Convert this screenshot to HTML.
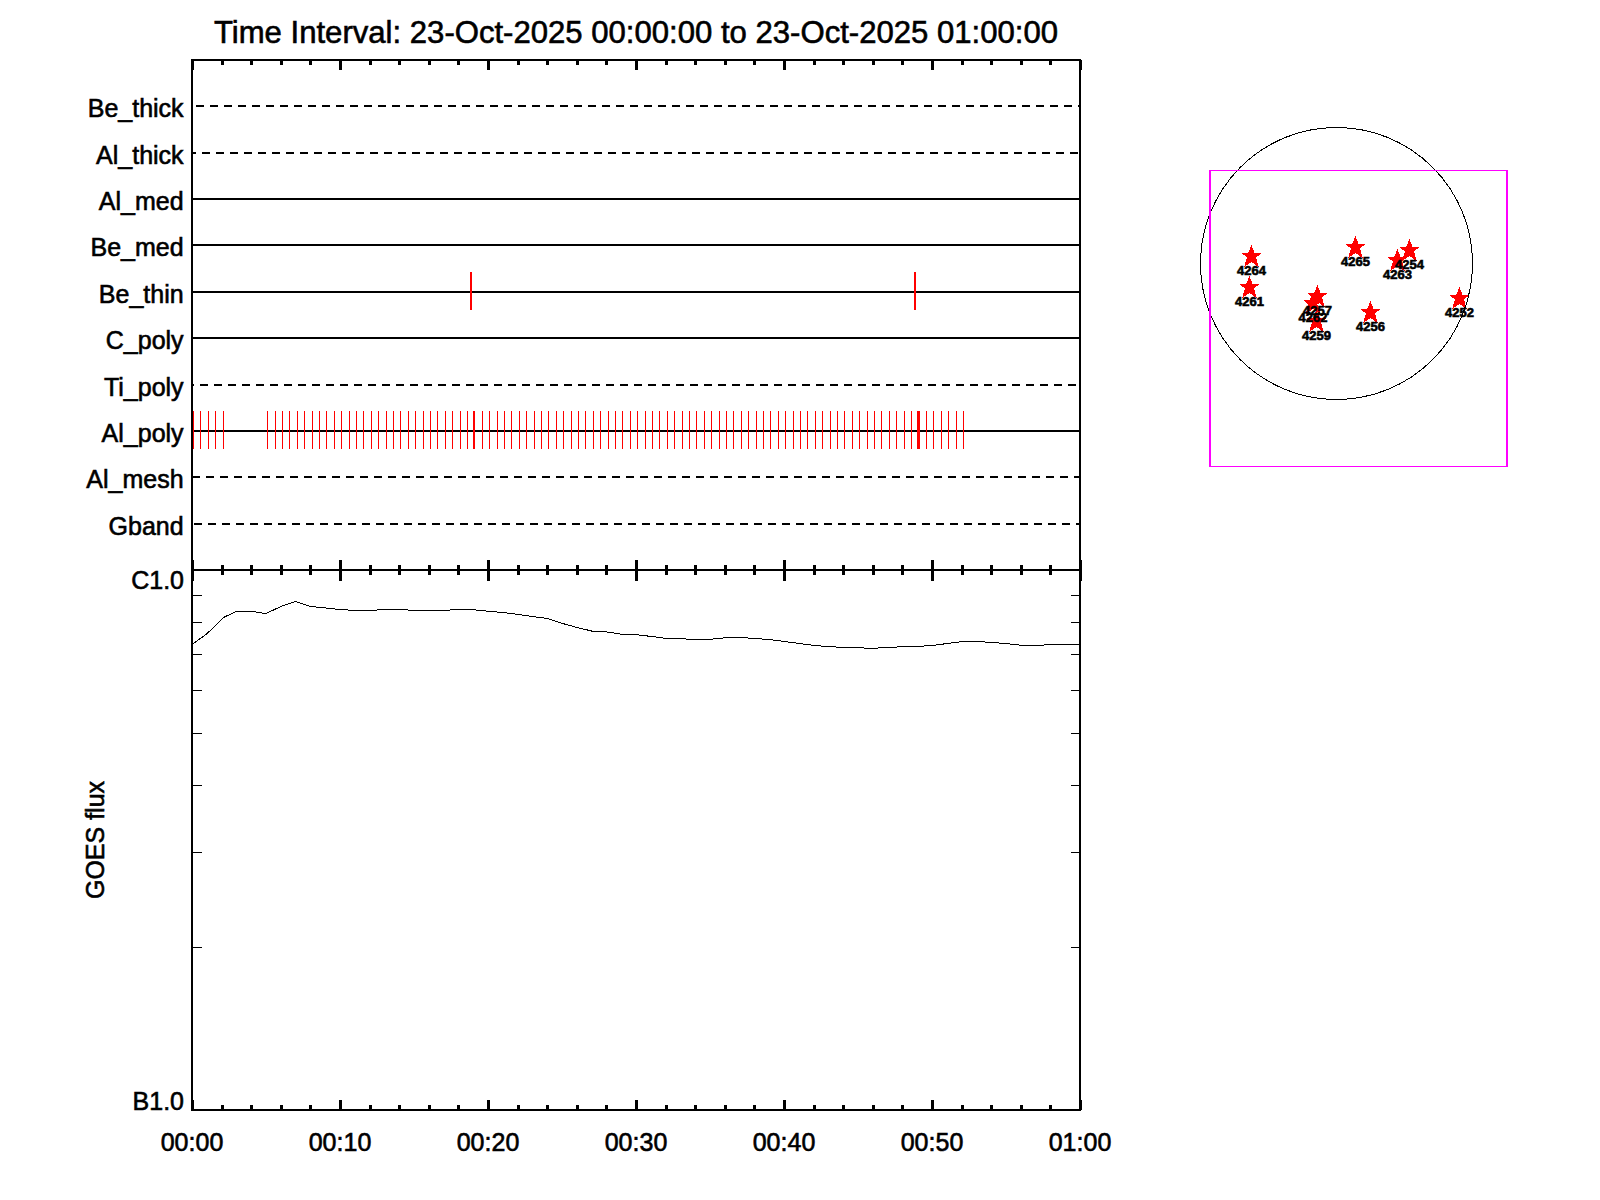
<!DOCTYPE html>
<html><head><meta charset="utf-8"><title>Time Interval plot</title>
<style>html,body{margin:0;padding:0;background:#fff;}body{width:1600px;height:1200px;overflow:hidden;}svg{display:block;}text{font-family:"Liberation Sans",sans-serif;fill:#000;stroke:#000;stroke-width:0.6px;}</style>
</head><body>
<svg width="1600" height="1200" viewBox="0 0 1600 1200">
<rect x="0" y="0" width="1600" height="1200" fill="#fff"/>
<text x="636" y="43" font-size="31.1" text-anchor="middle">Time Interval: 23-Oct-2025 00:00:00 to 23-Oct-2025 01:00:00</text>
<g shape-rendering="crispEdges">
<line x1="192" y1="106" x2="1080" y2="106" stroke="#000" stroke-width="2" stroke-dasharray="8 6" stroke-dashoffset="10"/>
<line x1="192" y1="153" x2="1080" y2="153" stroke="#000" stroke-width="2" stroke-dasharray="8 6" stroke-dashoffset="4"/>
<line x1="192" y1="199" x2="1080" y2="199" stroke="#000" stroke-width="2"/>
<line x1="192" y1="245" x2="1080" y2="245" stroke="#000" stroke-width="2"/>
<line x1="192" y1="292" x2="1080" y2="292" stroke="#000" stroke-width="2"/>
<line x1="192" y1="338" x2="1080" y2="338" stroke="#000" stroke-width="2"/>
<line x1="192" y1="385" x2="1080" y2="385" stroke="#000" stroke-width="2" stroke-dasharray="8 6" stroke-dashoffset="6"/>
<line x1="192" y1="431" x2="1080" y2="431" stroke="#000" stroke-width="2"/>
<line x1="192" y1="477" x2="1080" y2="477" stroke="#000" stroke-width="2" stroke-dasharray="8 6" stroke-dashoffset="0"/>
<line x1="192" y1="524" x2="1080" y2="524" stroke="#000" stroke-width="2" stroke-dasharray="8 6" stroke-dashoffset="12"/>
<rect x="193" y="411" width="1" height="38" fill="#f00"/>
<rect x="200" y="411" width="1" height="38" fill="#f00"/>
<rect x="208" y="411" width="1" height="38" fill="#f00"/>
<rect x="215" y="411" width="1" height="38" fill="#f00"/>
<rect x="223" y="411" width="1" height="38" fill="#f00"/>
<rect x="267" y="411" width="1" height="38" fill="#f00"/>
<rect x="275" y="411" width="1" height="38" fill="#f00"/>
<rect x="282" y="411" width="1" height="38" fill="#f00"/>
<rect x="289" y="411" width="1" height="38" fill="#f00"/>
<rect x="297" y="411" width="1" height="38" fill="#f00"/>
<rect x="304" y="411" width="1" height="38" fill="#f00"/>
<rect x="312" y="411" width="1" height="38" fill="#f00"/>
<rect x="319" y="411" width="1" height="38" fill="#f00"/>
<rect x="326" y="411" width="1" height="38" fill="#f00"/>
<rect x="334" y="411" width="1" height="38" fill="#f00"/>
<rect x="341" y="411" width="1" height="38" fill="#f00"/>
<rect x="349" y="411" width="1" height="38" fill="#f00"/>
<rect x="356" y="411" width="1" height="38" fill="#f00"/>
<rect x="363" y="411" width="1" height="38" fill="#f00"/>
<rect x="371" y="411" width="1" height="38" fill="#f00"/>
<rect x="378" y="411" width="1" height="38" fill="#f00"/>
<rect x="386" y="411" width="1" height="38" fill="#f00"/>
<rect x="393" y="411" width="1" height="38" fill="#f00"/>
<rect x="400" y="411" width="1" height="38" fill="#f00"/>
<rect x="408" y="411" width="1" height="38" fill="#f00"/>
<rect x="415" y="411" width="1" height="38" fill="#f00"/>
<rect x="423" y="411" width="1" height="38" fill="#f00"/>
<rect x="430" y="411" width="1" height="38" fill="#f00"/>
<rect x="437" y="411" width="1" height="38" fill="#f00"/>
<rect x="445" y="411" width="1" height="38" fill="#f00"/>
<rect x="452" y="411" width="1" height="38" fill="#f00"/>
<rect x="460" y="411" width="1" height="38" fill="#f00"/>
<rect x="467" y="411" width="1" height="38" fill="#f00"/>
<rect x="473" y="411" width="2" height="38" fill="#f00"/>
<rect x="482" y="411" width="1" height="38" fill="#f00"/>
<rect x="489" y="411" width="1" height="38" fill="#f00"/>
<rect x="497" y="411" width="1" height="38" fill="#f00"/>
<rect x="504" y="411" width="1" height="38" fill="#f00"/>
<rect x="511" y="411" width="1" height="38" fill="#f00"/>
<rect x="519" y="411" width="1" height="38" fill="#f00"/>
<rect x="526" y="411" width="1" height="38" fill="#f00"/>
<rect x="534" y="411" width="1" height="38" fill="#f00"/>
<rect x="541" y="411" width="1" height="38" fill="#f00"/>
<rect x="548" y="411" width="1" height="38" fill="#f00"/>
<rect x="556" y="411" width="1" height="38" fill="#f00"/>
<rect x="563" y="411" width="1" height="38" fill="#f00"/>
<rect x="571" y="411" width="1" height="38" fill="#f00"/>
<rect x="578" y="411" width="1" height="38" fill="#f00"/>
<rect x="585" y="411" width="1" height="38" fill="#f00"/>
<rect x="593" y="411" width="1" height="38" fill="#f00"/>
<rect x="600" y="411" width="1" height="38" fill="#f00"/>
<rect x="608" y="411" width="1" height="38" fill="#f00"/>
<rect x="615" y="411" width="1" height="38" fill="#f00"/>
<rect x="622" y="411" width="1" height="38" fill="#f00"/>
<rect x="630" y="411" width="1" height="38" fill="#f00"/>
<rect x="637" y="411" width="1" height="38" fill="#f00"/>
<rect x="645" y="411" width="1" height="38" fill="#f00"/>
<rect x="652" y="411" width="1" height="38" fill="#f00"/>
<rect x="659" y="411" width="1" height="38" fill="#f00"/>
<rect x="667" y="411" width="1" height="38" fill="#f00"/>
<rect x="674" y="411" width="1" height="38" fill="#f00"/>
<rect x="682" y="411" width="1" height="38" fill="#f00"/>
<rect x="689" y="411" width="1" height="38" fill="#f00"/>
<rect x="696" y="411" width="1" height="38" fill="#f00"/>
<rect x="704" y="411" width="1" height="38" fill="#f00"/>
<rect x="711" y="411" width="1" height="38" fill="#f00"/>
<rect x="719" y="411" width="1" height="38" fill="#f00"/>
<rect x="726" y="411" width="1" height="38" fill="#f00"/>
<rect x="733" y="411" width="1" height="38" fill="#f00"/>
<rect x="741" y="411" width="1" height="38" fill="#f00"/>
<rect x="748" y="411" width="1" height="38" fill="#f00"/>
<rect x="756" y="411" width="1" height="38" fill="#f00"/>
<rect x="763" y="411" width="1" height="38" fill="#f00"/>
<rect x="770" y="411" width="1" height="38" fill="#f00"/>
<rect x="778" y="411" width="1" height="38" fill="#f00"/>
<rect x="785" y="411" width="1" height="38" fill="#f00"/>
<rect x="793" y="411" width="1" height="38" fill="#f00"/>
<rect x="800" y="411" width="1" height="38" fill="#f00"/>
<rect x="807" y="411" width="1" height="38" fill="#f00"/>
<rect x="815" y="411" width="1" height="38" fill="#f00"/>
<rect x="822" y="411" width="1" height="38" fill="#f00"/>
<rect x="830" y="411" width="1" height="38" fill="#f00"/>
<rect x="837" y="411" width="1" height="38" fill="#f00"/>
<rect x="844" y="411" width="1" height="38" fill="#f00"/>
<rect x="852" y="411" width="1" height="38" fill="#f00"/>
<rect x="859" y="411" width="1" height="38" fill="#f00"/>
<rect x="867" y="411" width="1" height="38" fill="#f00"/>
<rect x="874" y="411" width="1" height="38" fill="#f00"/>
<rect x="881" y="411" width="1" height="38" fill="#f00"/>
<rect x="889" y="411" width="1" height="38" fill="#f00"/>
<rect x="896" y="411" width="1" height="38" fill="#f00"/>
<rect x="904" y="411" width="1" height="38" fill="#f00"/>
<rect x="911" y="411" width="1" height="38" fill="#f00"/>
<rect x="917" y="411" width="3" height="38" fill="#f00"/>
<rect x="926" y="411" width="1" height="38" fill="#f00"/>
<rect x="933" y="411" width="1" height="38" fill="#f00"/>
<rect x="941" y="411" width="1" height="38" fill="#f00"/>
<rect x="948" y="411" width="1" height="38" fill="#f00"/>
<rect x="956" y="411" width="1" height="38" fill="#f00"/>
<rect x="963" y="411" width="1" height="38" fill="#f00"/>
<rect x="470" y="272" width="2" height="38" fill="#f00"/>
<rect x="914" y="272" width="2" height="38" fill="#f00"/>
<rect x="191" y="59" width="890" height="2" fill="#000"/>
<rect x="191" y="569" width="890" height="2" fill="#000"/>
<rect x="191" y="1109" width="890" height="2" fill="#000"/>
<rect x="191" y="59" width="2" height="1052" fill="#000"/>
<rect x="1079" y="59" width="2" height="1052" fill="#000"/>
<rect x="191" y="60" width="3" height="10" fill="#000"/>
<rect x="191" y="559.5" width="3" height="21" fill="#000"/>
<rect x="191" y="1100" width="3" height="10" fill="#000"/>
<rect x="221" y="60" width="3" height="5" fill="#000"/>
<rect x="221" y="565" width="3" height="10" fill="#000"/>
<rect x="221" y="1105" width="3" height="5" fill="#000"/>
<rect x="250" y="60" width="3" height="5" fill="#000"/>
<rect x="250" y="565" width="3" height="10" fill="#000"/>
<rect x="250" y="1105" width="3" height="5" fill="#000"/>
<rect x="280" y="60" width="3" height="5" fill="#000"/>
<rect x="280" y="565" width="3" height="10" fill="#000"/>
<rect x="280" y="1105" width="3" height="5" fill="#000"/>
<rect x="309" y="60" width="3" height="5" fill="#000"/>
<rect x="309" y="565" width="3" height="10" fill="#000"/>
<rect x="309" y="1105" width="3" height="5" fill="#000"/>
<rect x="339" y="60" width="3" height="10" fill="#000"/>
<rect x="339" y="559.5" width="3" height="21" fill="#000"/>
<rect x="339" y="1100" width="3" height="10" fill="#000"/>
<rect x="369" y="60" width="3" height="5" fill="#000"/>
<rect x="369" y="565" width="3" height="10" fill="#000"/>
<rect x="369" y="1105" width="3" height="5" fill="#000"/>
<rect x="398" y="60" width="3" height="5" fill="#000"/>
<rect x="398" y="565" width="3" height="10" fill="#000"/>
<rect x="398" y="1105" width="3" height="5" fill="#000"/>
<rect x="428" y="60" width="3" height="5" fill="#000"/>
<rect x="428" y="565" width="3" height="10" fill="#000"/>
<rect x="428" y="1105" width="3" height="5" fill="#000"/>
<rect x="457" y="60" width="3" height="5" fill="#000"/>
<rect x="457" y="565" width="3" height="10" fill="#000"/>
<rect x="457" y="1105" width="3" height="5" fill="#000"/>
<rect x="487" y="60" width="3" height="10" fill="#000"/>
<rect x="487" y="559.5" width="3" height="21" fill="#000"/>
<rect x="487" y="1100" width="3" height="10" fill="#000"/>
<rect x="517" y="60" width="3" height="5" fill="#000"/>
<rect x="517" y="565" width="3" height="10" fill="#000"/>
<rect x="517" y="1105" width="3" height="5" fill="#000"/>
<rect x="546" y="60" width="3" height="5" fill="#000"/>
<rect x="546" y="565" width="3" height="10" fill="#000"/>
<rect x="546" y="1105" width="3" height="5" fill="#000"/>
<rect x="576" y="60" width="3" height="5" fill="#000"/>
<rect x="576" y="565" width="3" height="10" fill="#000"/>
<rect x="576" y="1105" width="3" height="5" fill="#000"/>
<rect x="605" y="60" width="3" height="5" fill="#000"/>
<rect x="605" y="565" width="3" height="10" fill="#000"/>
<rect x="605" y="1105" width="3" height="5" fill="#000"/>
<rect x="635" y="60" width="3" height="10" fill="#000"/>
<rect x="635" y="559.5" width="3" height="21" fill="#000"/>
<rect x="635" y="1100" width="3" height="10" fill="#000"/>
<rect x="665" y="60" width="3" height="5" fill="#000"/>
<rect x="665" y="565" width="3" height="10" fill="#000"/>
<rect x="665" y="1105" width="3" height="5" fill="#000"/>
<rect x="694" y="60" width="3" height="5" fill="#000"/>
<rect x="694" y="565" width="3" height="10" fill="#000"/>
<rect x="694" y="1105" width="3" height="5" fill="#000"/>
<rect x="724" y="60" width="3" height="5" fill="#000"/>
<rect x="724" y="565" width="3" height="10" fill="#000"/>
<rect x="724" y="1105" width="3" height="5" fill="#000"/>
<rect x="753" y="60" width="3" height="5" fill="#000"/>
<rect x="753" y="565" width="3" height="10" fill="#000"/>
<rect x="753" y="1105" width="3" height="5" fill="#000"/>
<rect x="783" y="60" width="3" height="10" fill="#000"/>
<rect x="783" y="559.5" width="3" height="21" fill="#000"/>
<rect x="783" y="1100" width="3" height="10" fill="#000"/>
<rect x="813" y="60" width="3" height="5" fill="#000"/>
<rect x="813" y="565" width="3" height="10" fill="#000"/>
<rect x="813" y="1105" width="3" height="5" fill="#000"/>
<rect x="842" y="60" width="3" height="5" fill="#000"/>
<rect x="842" y="565" width="3" height="10" fill="#000"/>
<rect x="842" y="1105" width="3" height="5" fill="#000"/>
<rect x="872" y="60" width="3" height="5" fill="#000"/>
<rect x="872" y="565" width="3" height="10" fill="#000"/>
<rect x="872" y="1105" width="3" height="5" fill="#000"/>
<rect x="901" y="60" width="3" height="5" fill="#000"/>
<rect x="901" y="565" width="3" height="10" fill="#000"/>
<rect x="901" y="1105" width="3" height="5" fill="#000"/>
<rect x="931" y="60" width="3" height="10" fill="#000"/>
<rect x="931" y="559.5" width="3" height="21" fill="#000"/>
<rect x="931" y="1100" width="3" height="10" fill="#000"/>
<rect x="961" y="60" width="3" height="5" fill="#000"/>
<rect x="961" y="565" width="3" height="10" fill="#000"/>
<rect x="961" y="1105" width="3" height="5" fill="#000"/>
<rect x="990" y="60" width="3" height="5" fill="#000"/>
<rect x="990" y="565" width="3" height="10" fill="#000"/>
<rect x="990" y="1105" width="3" height="5" fill="#000"/>
<rect x="1020" y="60" width="3" height="5" fill="#000"/>
<rect x="1020" y="565" width="3" height="10" fill="#000"/>
<rect x="1020" y="1105" width="3" height="5" fill="#000"/>
<rect x="1049" y="60" width="3" height="5" fill="#000"/>
<rect x="1049" y="565" width="3" height="10" fill="#000"/>
<rect x="1049" y="1105" width="3" height="5" fill="#000"/>
<rect x="1079" y="60" width="3" height="10" fill="#000"/>
<rect x="1079" y="559.5" width="3" height="21" fill="#000"/>
<rect x="1079" y="1100" width="3" height="10" fill="#000"/>
<rect x="192" y="595" width="10" height="1" fill="#000"/>
<rect x="1071" y="595" width="9" height="1" fill="#000"/>
<rect x="192" y="622" width="10" height="1" fill="#000"/>
<rect x="1071" y="622" width="9" height="1" fill="#000"/>
<rect x="192" y="654" width="10" height="1" fill="#000"/>
<rect x="1071" y="654" width="9" height="1" fill="#000"/>
<rect x="192" y="690" width="10" height="1" fill="#000"/>
<rect x="1071" y="690" width="9" height="1" fill="#000"/>
<rect x="192" y="733" width="10" height="1" fill="#000"/>
<rect x="1071" y="733" width="9" height="1" fill="#000"/>
<rect x="192" y="785" width="10" height="1" fill="#000"/>
<rect x="1071" y="785" width="9" height="1" fill="#000"/>
<rect x="192" y="852" width="10" height="1" fill="#000"/>
<rect x="1071" y="852" width="9" height="1" fill="#000"/>
<rect x="192" y="947" width="10" height="1" fill="#000"/>
<rect x="1071" y="947" width="9" height="1" fill="#000"/>
</g>
<text x="183.6" y="117" font-size="25" text-anchor="end">Be_thick</text>
<text x="183.6" y="164" font-size="25" text-anchor="end">Al_thick</text>
<text x="183.6" y="210" font-size="25" text-anchor="end">Al_med</text>
<text x="183.6" y="256" font-size="25" text-anchor="end">Be_med</text>
<text x="183.6" y="303" font-size="25" text-anchor="end">Be_thin</text>
<text x="183.6" y="349" font-size="25" text-anchor="end">C_poly</text>
<text x="183.6" y="396" font-size="25" text-anchor="end">Ti_poly</text>
<text x="183.6" y="442" font-size="25" text-anchor="end">Al_poly</text>
<text x="183.6" y="488" font-size="25" text-anchor="end">Al_mesh</text>
<text x="183.6" y="535" font-size="25" text-anchor="end">Gband</text>
<text x="184" y="589" font-size="25" text-anchor="end">C1.0</text>
<text x="184" y="1110" font-size="25" text-anchor="end">B1.0</text>
<text x="192.0" y="1151" font-size="25" text-anchor="middle">00:00</text>
<text x="340.0" y="1151" font-size="25" text-anchor="middle">00:10</text>
<text x="488.0" y="1151" font-size="25" text-anchor="middle">00:20</text>
<text x="636.0" y="1151" font-size="25" text-anchor="middle">00:30</text>
<text x="784.0" y="1151" font-size="25" text-anchor="middle">00:40</text>
<text x="932.0" y="1151" font-size="25" text-anchor="middle">00:50</text>
<text x="1080.0" y="1151" font-size="25" text-anchor="middle">01:00</text>
<text transform="translate(104 840) rotate(-90)" font-size="25" text-anchor="middle">GOES flux</text>
<polyline fill="none" stroke="#000" stroke-width="1" shape-rendering="crispEdges" points="192.0,644.4 206.8,633.9 223.5,617.5 236.4,611.31 251.2,611.32 266.0,613.54 280.8,606.51 295.6,601.45 310.4,606.46 325.2,607.91 340.0,609.6 354.8,610.34 369.6,610.23 384.4,609.79 399.2,609.8 414.0,610.16 428.8,610.37 443.6,610.21 458.4,609.72 473.2,609.7 488.0,611.24 502.8,612.55 517.6,614.34 532.4,616.45 547.2,618.49 562.0,623.3 576.8,627.4 591.6,631.02 606.4,631.87 621.2,634.13 636.0,634.68 650.8,636.38 665.6,638.29 680.4,638.85 695.2,639.28 710.0,639.27 724.8,637.84 739.6,637.59 754.4,638.37 769.2,639.56 784.0,641.4 798.8,643.43 813.6,645.34 828.4,646.63 843.2,647.36 858.0,647.83 872.8,648.26 887.6,647.59 902.4,646.63 917.2,646.42 932.0,645.53 946.8,643.57 961.6,641.71 976.4,641.53 991.2,642.36 1006.0,643.62 1020.8,645.24 1035.6,645.35 1050.4,644.74 1065.2,644.46 1079.5,644.46"/>
<g fill="#f00" shape-rendering="crispEdges">
<polygon points="1251.5,245.0 1254.7,253.0 1261.5,253.1 1256.0,257.5 1258.9,267.2 1251.5,262.0 1244.1,267.2 1247.0,257.5 1241.5,253.1 1248.3,253.0"/>
<polygon points="1249.5,276.0 1252.7,284.0 1259.5,284.1 1254.0,288.5 1256.9,298.2 1249.5,293.0 1242.1,298.2 1245.0,288.5 1239.5,284.1 1246.3,284.0"/>
<polygon points="1317.5,285.0 1320.7,293.0 1327.5,293.1 1322.0,297.5 1324.9,307.2 1317.5,302.0 1310.1,307.2 1313.0,297.5 1307.5,293.1 1314.3,293.0"/>
<polygon points="1313.0,292.0 1316.2,300.0 1323.0,300.1 1317.5,304.5 1320.4,314.2 1313.0,309.0 1305.6,314.2 1308.5,304.5 1303.0,300.1 1309.8,300.0"/>
<polygon points="1316.5,310.0 1319.7,318.0 1326.5,318.1 1321.0,322.5 1323.9,332.2 1316.5,327.0 1309.1,332.2 1312.0,322.5 1306.5,318.1 1313.3,318.0"/>
<polygon points="1355.5,236.0 1358.7,244.0 1365.5,244.1 1360.0,248.5 1362.9,258.2 1355.5,253.0 1348.1,258.2 1351.0,248.5 1345.5,244.1 1352.3,244.0"/>
<polygon points="1397.5,249.0 1400.7,257.0 1407.5,257.1 1402.0,261.5 1404.9,271.2 1397.5,266.0 1390.1,271.2 1393.0,261.5 1387.5,257.1 1394.3,257.0"/>
<polygon points="1409.5,239.0 1412.7,247.0 1419.5,247.1 1414.0,251.5 1416.9,261.2 1409.5,256.0 1402.1,261.2 1405.0,251.5 1399.5,247.1 1406.3,247.0"/>
<polygon points="1370.5,301.0 1373.7,309.0 1380.5,309.1 1375.0,313.5 1377.9,323.2 1370.5,318.0 1363.1,323.2 1366.0,313.5 1360.5,309.1 1367.3,309.0"/>
<polygon points="1459.5,287.0 1462.7,295.0 1469.5,295.1 1464.0,299.5 1466.9,309.2 1459.5,304.0 1452.1,309.2 1455.0,299.5 1449.5,295.1 1456.3,295.0"/>
</g>
<circle cx="1336.5" cy="263.5" r="136" fill="none" stroke="#000" stroke-width="1" shape-rendering="crispEdges"/>
<g fill="#f0f" shape-rendering="crispEdges">
<rect x="1209" y="170" width="2" height="297"/><rect x="1506" y="170" width="2" height="297"/>
<rect x="1209" y="170" width="299" height="1"/><rect x="1209" y="466" width="299" height="1"/>
</g>
<g font-size="13" font-weight="bold" text-anchor="middle" stroke="none">
<text x="1251.5" y="275">4264</text>
<text x="1249.5" y="306">4261</text>
<text x="1317.5" y="315">4257</text>
<text x="1313" y="322">4262</text>
<text x="1316.5" y="340">4259</text>
<text x="1355.5" y="266">4265</text>
<text x="1397.5" y="279">4263</text>
<text x="1409.5" y="269">4254</text>
<text x="1370.5" y="331">4256</text>
<text x="1459.5" y="317">4252</text>
</g>
</svg>
</body></html>
